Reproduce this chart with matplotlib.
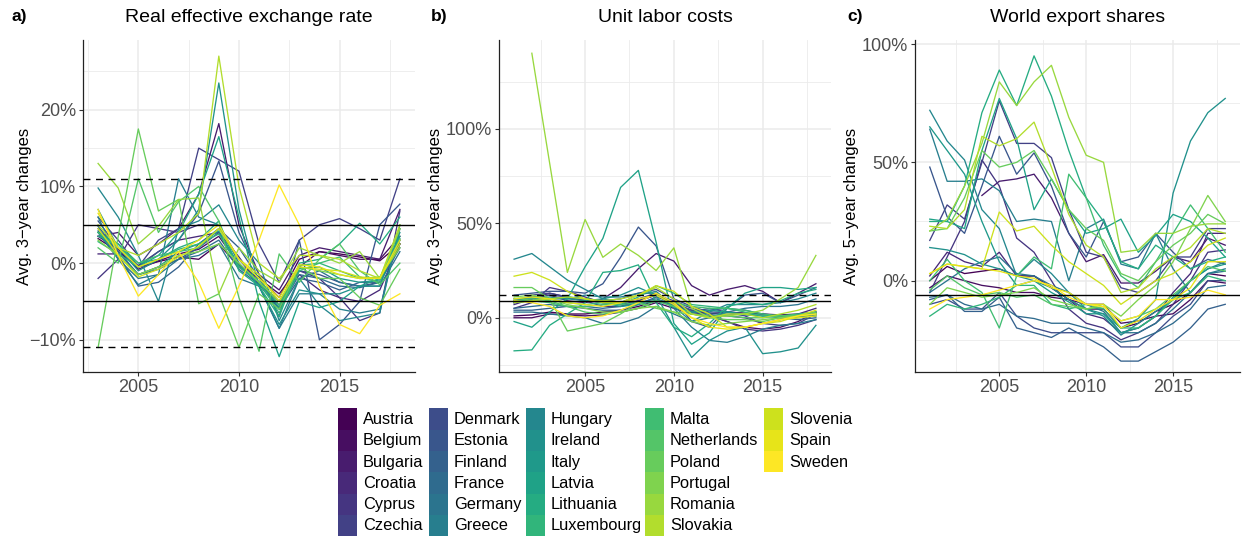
import numpy as np
import matplotlib
matplotlib.use("Agg")
import matplotlib.pyplot as plt
from matplotlib.patches import Rectangle

plt.rcParams['font.family'] = ['Liberation Sans', 'DejaVu Sans']

nan = np.nan

countries = ["Austria", "Belgium", "Bulgaria", "Croatia", "Cyprus", "Czechia",
             "Denmark", "Estonia", "Finland", "France", "Germany", "Greece",
             "Hungary", "Ireland", "Italy", "Latvia", "Lithuania", "Luxembourg",
             "Malta", "Netherlands", "Poland", "Portugal", "Romania", "Slovakia",
             "Slovenia", "Spain", "Sweden"]

# ---- panel a: real effective exchange rate (avg. 3-year changes, %), 2003-2018
reer_years = list(range(2003, 2019))
reer_values = [
    [3.2, 1.5, -0.5, 0.2, 0.8, 0.5, 2.5, -0.5, -1.8, -4.5, 0.5, 1.5, 1.2, 0.8, 0.3, 2.5],   # Austria
    [3.5, 1.8, -0.8, 0.3, 1.2, 1.8, 3.5, -0.2, -2.0, -4.0, -0.5, 1.5, 1.0, 0.5, 0.5, 3.5],  # Belgium
    [3.5, 4.0, 1.0, 2.5, 4.5, 9.0, 18.2, 5.0, -1.5, -3.5, 1.0, 2.0, 1.5, 1.0, 0.5, 7.0],    # Bulgaria
    [1.2, 1.2, -0.3, 1.5, 3.0, 3.5, 4.0, 0.8, -2.8, -5.0, -1.5, -3.5, -4.5, -5.0, -3.5, 2.5],  # Croatia
    [-2.0, 0.5, 5.0, 4.5, 4.0, 5.0, 5.0, 0.5, -2.5, -5.0, -1.0, -2.0, -4.5, -7.5, -6.5, 6.8],  # Cyprus
    [6.0, 3.0, -0.5, 3.0, 4.5, 15.0, 13.5, 12.0, 2.5, -2.5, 3.0, 5.0, 5.8, 4.5, 3.0, 11.0],  # Czechia
    [4.5, 1.5, -1.5, -0.5, 0.5, 2.0, 4.0, -0.5, -2.5, -5.5, -1.0, -1.5, -2.5, -3.0, -2.5, 3.0],  # Denmark
    [5.5, 2.0, -0.5, 1.5, 3.0, 6.5, 13.3, 4.0, -1.5, -7.0, 3.0, -10.0, -8.0, -5.0, 5.0, 7.7],  # Estonia
    [4.2, 1.0, -3.0, -2.5, -0.5, 2.5, 4.5, 2.0, -2.0, -6.0, -2.0, -2.5, -3.5, -2.5, -2.5, 2.5],  # Finland
    [4.8, 1.5, -1.5, -0.8, 0.5, 1.5, 3.0, -0.8, -2.8, -6.0, -1.5, -2.0, -3.0, -3.2, -2.5, 2.0],  # France
    [4.0, 0.5, -2.0, -1.5, 0.5, 1.0, 2.5, -2.0, -3.0, -8.5, -2.0, -1.0, -2.5, -3.0, -3.0, 1.5],  # Germany
    [6.0, 0.5, -2.8, -1.5, 11.0, 6.0, 5.0, 0.0, -3.0, -8.5, -4.0, -4.0, -6.0, -6.5, -6.0, 4.5],  # Greece
    [9.8, 6.0, 1.0, -5.0, 4.5, 5.5, 7.6, 3.0, 0.0, -7.5, -2.0, -5.5, -7.5, -7.0, -6.5, 5.0],  # Hungary
    [7.0, 2.0, -1.0, 0.5, 3.0, 7.0, 23.5, 7.0, -3.0, -8.0, -3.5, -4.0, -4.0, -3.0, -3.0, 4.0],  # Ireland
    [4.0, 1.0, -1.5, -0.5, 1.5, 2.5, 4.2, -0.3, -2.5, -5.8, -0.7, -0.5, -2.0, -2.5, -2.2, 3.0],  # Italy
    [4.0, 2.5, -0.5, 1.0, 4.0, 9.0, 16.5, 6.0, -5.0, -12.2, -5.0, -5.8, -5.0, -3.0, -2.0, 3.5],  # Latvia
    [3.5, 2.5, 0.0, 0.5, 2.0, 3.0, 5.5, -1.0, -3.0, -7.0, 0.0, 0.5, 2.5, 5.2, 2.5, 6.0],  # Lithuania
    [2.8, 1.2, -0.5, 0.5, 1.8, 2.5, 3.8, -0.5, -2.5, -6.5, -1.0, 0.0, -1.0, -2.0, -2.0, 3.2],  # Luxembourg
    [4.0, 2.0, 0.0, 1.0, 1.5, 2.0, 4.5, 0.5, -2.0, -5.5, -0.3, 0.0, 0.8, -1.8, -2.5, 4.5],  # Malta
    [2.0, 0.0, 11.0, 4.0, 8.0, 10.0, 5.5, -4.5, -11.5, 1.2, -2.5, 0.5, 2.5, -1.0, -2.8, 0.0],  # Netherlands
    [-11.0, 3.5, 17.5, 6.8, 8.3, -5.3, -4.0, -11.0, -4.0, -6.0, -0.5, -2.0, -2.0, -4.5, -5.5, -0.8],  # Poland
    [3.0, 1.0, -1.5, -0.5, 1.0, 1.5, 2.5, 0.0, -2.5, -5.0, -0.5, -1.0, -1.5, -2.0, -1.8, 2.0],  # Portugal
    [13.0, 9.8, 2.5, 4.8, 8.3, 8.5, -4.0, 2.0, -1.0, -2.5, 2.0, 1.0, 0.0, 1.5, -2.0, 4.5],  # Romania
    [5.0, 2.0, 1.0, 2.5, 4.0, 6.5, 27.0, 10.0, 0.0, -2.0, 1.0, 1.0, 0.5, -1.0, -2.0, 5.0],  # Slovakia
    [4.5, 1.0, -1.8, -0.8, 0.8, 2.2, 4.5, 0.5, -1.5, -5.0, -0.5, -0.8, -1.0, -1.8, -2.0, 2.5],  # Slovenia
    [6.5, 2.0, -0.5, 0.5, 1.5, 3.0, 5.0, 0.5, -2.0, -4.5, -0.2, -0.5, -1.5, -2.0, -2.0, 3.0],  # Spain
    [7.0, 1.0, -4.3, -1.5, 1.5, -2.5, -8.5, -3.0, 3.0, 10.2, 5.0, -3.0, -8.0, -9.2, -5.5, -4.0],  # Sweden
]
reer_solid = [5, -5]
reer_dashed = [11, -11]
reer_ticks = [-10, 0, 10, 20]
reer_minor = [-5, 5, 15, 25]

# ---- panel b: unit labor costs (avg. 3-year changes, %), 2001-2018
ulc_years = list(range(2001, 2019))
ulc_values = [
    [1, 1.5, 3, 2, 2, 3, 4, 6, 9, 7, 4, 2, 3, 2.5, 2, 1.5, 2, 3],            # Austria
    [0, 0, 2, 1.5, 1, 1.5, 3, 5, 8, 5, 2, 1, -2, -5, -6, -5, -2, 3],         # Belgium
    [8, 10, 12, 9, 8, 10, 16, 26, 34, 30, 17, 12, 15, 17, 14, 8, 13, 18],    # Bulgaria
    [7, 10, 13, 11, 9, 6, 6, 9, 12, 8, 3, 1, 1, 0, -3, -1, 2, 5],            # Croatia
    [5, 8, 16, 14, 11, 8, 7, 9, 12, 9, 5, 2, -2, -6, -7, -6, -4, -1],        # Cyprus
    [8, 12, 13, 11, 9, 8, 8, 10, 13, 7, 3, 5, 3, 1, -3, -4, -3, 2],          # Czechia
    [9, 11, 12, 11, 10, 9, 10, 13, 15, 10, 6, 3, 3, 2, 2, 1, 1, 2],          # Denmark
    [12, 13, 14, 14, 13, 18, 32, 48, 38, 10, -2, -5, 5, 12, 13, 8, 12, 16],  # Estonia
    [4, 4, 5, 6, 5, 4, 4, 7, 11, 8, 4, 4, 5, 4, 2, 0, -1, 0],                # Finland
    [5, 6, 7, 6, 6, 5, 6, 8, 10, 7, 3, 2, 2, 1.5, 1, 0.5, 0.5, 1],           # France
    [3, 3, 2, 1, 0, -3, -3, 0, 6, 2, -2, 0, 3, 5, 6, 6, 7, 10],              # Germany
    [9, 9, 10, 10, 12, 11, 11, 13, 13, 5, -5, -12, -13, -10, -6, -4, -3, -1],  # Greece
    [31, 34, 27, 20, 15, 10, 8, 12, 14, 6, -2, 3, 7, 7, 7, 8, 10, 13],       # Hungary
    [10, 10, 11, 10, 9, 10, 12, 16, 12, -5, -21, -12, -7, -5, -19, -18, -16, -4],  # Ireland
    [8, 9, 10, 11, 10, 8, 6, 7, 9, 6, 3, 4, 3, 2, 1, 0, 0, 1],               # Italy
    [-2, -5, 3, 10, 27, 42, 69, 78, 40, -3, -14, -8, 5, 13, 16, 16, 15, 16],  # Latvia
    [-17.5, -17, -4, 2, 8, 24, 25, 28, 8, -5, -10, -3, 6, 8, 7, 9, 13, 15],  # Lithuania
    [10, 11, 10, 8, 7, 8, 7, 11, 17, 13, 7, 6, 5, 3, 1, 1, 2, 3],            # Luxembourg
    [9, 9, 8, 6, 6, 7, 7, 8, 9, 8, 6, 5, 5, 4, 2, 1, 1, 2],                  # Malta
    [9, 10, 9, 6, 3, 2, 3, 5, 9, 6, 2, 1, 1, 0, 0, 1, 1.5, 2],               # Netherlands
    [16, 16, 10, -7, -5, -3, 2, 8, 5, 3, 2, 0, -1, -1, -2, 0, 1, 3],         # Poland
    [11, 12, 10, 7, 5, 3, 3, 5, 6, 3, -2, -4, -3, -2, -1, 0, 1, 2],          # Portugal
    [nan, 140, 82, 24, 52, 32, 39, 33, 25, 37, 5, 0, 1, 2, 4, 10, 16, 33],   # Romania
    [8, 9, 10, 11, 10, 9, 10, 12, 16, 10, 2, 0, 2, 2, 0, 2, 4, 7],           # Slovakia
    [22, 24, 20, 14, 10, 8, 8, 12, 17, 14, 6, 2, -5, -5, -3, -2, 1, 4],      # Slovenia
    [10, 11, 10, 8, 7, 6, 8, 10, 12, 7, 0, -5, -6, -5, -3, -1, 0, 1],        # Spain
    [9, 8, 6, 1, 0, 1, 4, 8, 13, 8, 0, -3, -5, -5, -3, -1, 1, 2],            # Sweden
]
ulc_solid = [9]
ulc_dashed = [12]
ulc_ticks = [0, 50, 100]
ulc_minor = [-25, 25, 75, 125]

# ---- panel c: world export shares (avg. 5-year changes, %), 2001-2018
wes_years = list(range(2001, 2019))
wes_values = [
    [0, 6, 3, 4, 5, 2, 2, -3, -8, -12, -12, -20, -18, -13, -10, -5, 3, 2],        # Austria
    [-3, 2, 0, -2, -3, -5, -5, -7, -8, -10, -10, -18, -17, -15, -14, -8, 0, -1],  # Belgium
    [nan, nan, nan, 36, 42, 43, 45, 35, 20, 8, 11, -1, -1, 4, 10, 8, 18, 15],     # Bulgaria
    [2, 12, 8, 6, 12, 2, 2, -3, -8, -14, -16, -22, -20, -15, -5, 3, 20, 20],      # Croatia
    [-5, 10, 25, 51, 40, 18, 12, 0, -12, -18, -20, -25, -22, -18, -10, 0, 12, 13],  # Cyprus
    [17, 32, 26, 50, 76, 58, 58, 52, 30, 12, 10, -3, -5, 0, 10, 10, 22, 22],      # Czechia
    [-10, -8, -12, -12, -5, -15, -20, -22, -22, -22, -22, -28, -28, -22, -15, -10, 0, 0],  # Denmark
    [48, 27, 20, 40, 61, 45, 54, 40, 20, 10, 25, 8, 10, 20, 12, 5, 9, 7],         # Estonia
    [-8, -6, -13, -13, -7, -20, -22, -24, -20, -24, -28, -34, -34, -30, -26, -20, -12, -10],  # Finland
    [-7, -6, -10, -12, -10, -15, -16, -18, -18, -20, -22, -26, -25, -22, -18, -12, -3, -2],  # France
    [-5, 0, 5, 8, 10, 3, 2, -2, -5, -10, -13, -22, -22, -18, -12, -5, 3, 4],      # Germany
    [64, 42, 42, 43, 38, 25, 26, 25, 0, 22, 26, 7, 5, 20, 5, -5, 3, 5],           # Greece
    [72, 59, 51, 30, 22, 2, 9, 3, -5, -12, -15, -23, -18, -13, -8, 0, 5, 8],      # Hungary
    [14, 13, 11, 7, 5, 2, 0, -3, -8, -12, -14, -20, -16, -8, 37, 59, 71, 77],     # Ireland
    [65, 55, 45, 25, 8, -2, 0, -5, -9, -14, -14, -22, -20, -15, -7, 0, 5, 7],     # Italy
    [26, 25, 22, 55, 77, 60, 30, 43, 30, 20, 22, 26, 12, 19, 28, 25, 18, 10],     # Latvia
    [25, 25, 40, 71, 89, 74, 95, 78, 55, 35, 25, 8, 5, 15, 10, 5, 8, 10],         # Lithuania
    [-15, -10, -12, -10, -7, -2, -2, -10, -12, -10, -12, -20, -20, -15, -8, -5, 2, 0],  # Luxembourg
    [0, 9, 0, -5, -20, 2, 10, 5, 45, 35, 15, 2, -3, 8, 20, 32, 22, 12],           # Malta
    [-4, 2, -3, -6, -5, -7, -6, -10, -11, -12, -11, -17, -15, -12, -6, 0, 6, 4],  # Netherlands
    [21, 22, 35, 55, 48, 50, 55, 43, 30, 22, 17, 3, 0, 8, 15, 20, 28, 24],        # Poland
    [-10, -3, -5, -7, -6, -5, -3, -8, -10, -12, -10, -15, -8, -2, 8, 22, 36, 25],  # Portugal
    [21, 26, 40, 58, 84, 74, 84, 91, 69, 53, 50, 12, 13, 20, 20, 23, 24, 24],     # Romania
    [23, 22, 30, 61, 57, 60, 67, 48, 28, 15, 10, -5, -3, 5, 10, 14, 22, 20],      # Slovakia
    [3, 7, 6, 5, 29, 21, 23, 15, 8, 3, -2, -10, -5, 0, 3, 8, 15, 18],             # Slovenia
    [3, 7, 6, 5, 4, 2, 1, -3, -5, -10, -10, -20, -17, -12, -8, -3, 8, 8],         # Spain
    [-12, -8, -7, -6, -4, -2, 0, -2, -7, -10, -11, -17, -15, -8, -8, -7, -4, -6],  # Sweden
]
wes_solid = [-6]
wes_dashed = []
wes_ticks = [0, 50, 100]
wes_minor = [-25, 25, 75]

x_ticks = [2005, 2010, 2015]
x_minor = [2002.5, 2007.5, 2012.5, 2017.5]

titles = ["Real effective exchange rate", "Unit labor costs", "World export shares"]
tags = ["a)", "b)", "c)"]
ylabels = ["Avg. 3\u2212year changes", "Avg. 3\u2212year changes", "Avg. 5\u2212year changes"]

W, H = 1243, 536
fig = plt.figure(figsize=(W / 100, H / 100), dpi=100)

colors = [plt.cm.viridis(i / (len(countries) - 1)) for i in range(len(countries))]

def px_axes(l, t, r, b):
    return fig.add_axes([l / W, 1 - b / H, (r - l) / W, (b - t) / H])

def fmt_pct(v):
    s = f"{v:g}%"
    return s.replace("-", "\u2212")

panels = [
    (px_axes(83, 40, 415, 372), reer_years, reer_values, reer_solid, reer_dashed,
     reer_ticks, reer_minor, (-14.2, 29.1), (2002.25, 2018.75)),
    (px_axes(499, 40, 831, 372), ulc_years, ulc_values, ulc_solid, ulc_dashed,
     ulc_ticks, ulc_minor, (-28.7, 147), (2000.15, 2018.85)),
    (px_axes(915, 40, 1240, 372), wes_years, wes_values, wes_solid, wes_dashed,
     wes_ticks, wes_minor, (-38.6, 101.7), (2000.15, 2018.85)),
]
label_x = [-0.155, -0.17, -0.172]

grid_c = "#ebebeb"
for k, (ax, yrs, vals, solid, dashed, yt, ym, ylim, xlim) in enumerate(panels):
    for xm in x_minor:
        ax.axvline(xm, color=grid_c, lw=0.6, zorder=0)
    for xt in x_ticks:
        ax.axvline(xt, color=grid_c, lw=1.1, zorder=0)
    for y in ym:
        ax.axhline(y, color=grid_c, lw=0.6, zorder=0)
    for y in yt:
        ax.axhline(y, color=grid_c, lw=1.1, zorder=0)
    for i, v in enumerate(vals):
        ax.plot(yrs, v, color=colors[i], lw=0.95, zorder=2)
    for y in solid:
        ax.axhline(y, color="black", lw=1.0, zorder=3)
    for y in dashed:
        ax.axhline(y, color="black", lw=1.0, ls=(0, (5, 4)), zorder=3)
    ax.set_xlim(*xlim)
    ax.set_ylim(*ylim)
    ax.set_xticks(x_ticks)
    ax.set_xticklabels([str(t) for t in x_ticks])
    ax.set_yticks(yt)
    ax.set_yticklabels([fmt_pct(t) for t in yt])
    ax.tick_params(axis="both", labelsize=13, labelcolor="#4d4d4d", color="#333333",
                   length=3, width=0.8, pad=2)
    for s in ["top", "right"]:
        ax.spines[s].set_visible(False)
    for s in ["left", "bottom"]:
        ax.spines[s].set_color("#222222")
        ax.spines[s].set_linewidth(0.9)
    ax.set_facecolor("white")
    ax.set_ylabel(ylabels[k], fontsize=12, color="black")
    ax.yaxis.set_label_coords(label_x[k], 0.5)
    pos = ax.get_position()
    fig.text(pos.x0 + pos.width / 2, 1 - 18 / H, titles[k], ha="center", va="center",
             fontsize=14)

tag_x = [12, 431, 847]
for k in range(3):
    fig.text(tag_x[k] / W, 1 - 17 / H, tags[k], ha="left", va="center",
             fontsize=12.5, fontweight="bold")

# legend drawn manually
lax = fig.add_axes([0, 0, 1, 1])
lax.set_xlim(0, W)
lax.set_ylim(H, 0)
lax.axis("off")
col_x = [338, 429, 526, 645, 764]
row_h = 21.3
y0 = 408.3
for i, name in enumerate(countries):
    c, r = divmod(i, 6)
    x = col_x[c]
    y = y0 + r * row_h
    lax.add_patch(Rectangle((x, y), 19.5, row_h, facecolor=colors[i], edgecolor="none"))
    lax.text(x + 25, y + row_h / 2 + 0.5, name, ha="left", va="center", fontsize=11.8)

fig.savefig("out.png", dpi=100, facecolor="white")
